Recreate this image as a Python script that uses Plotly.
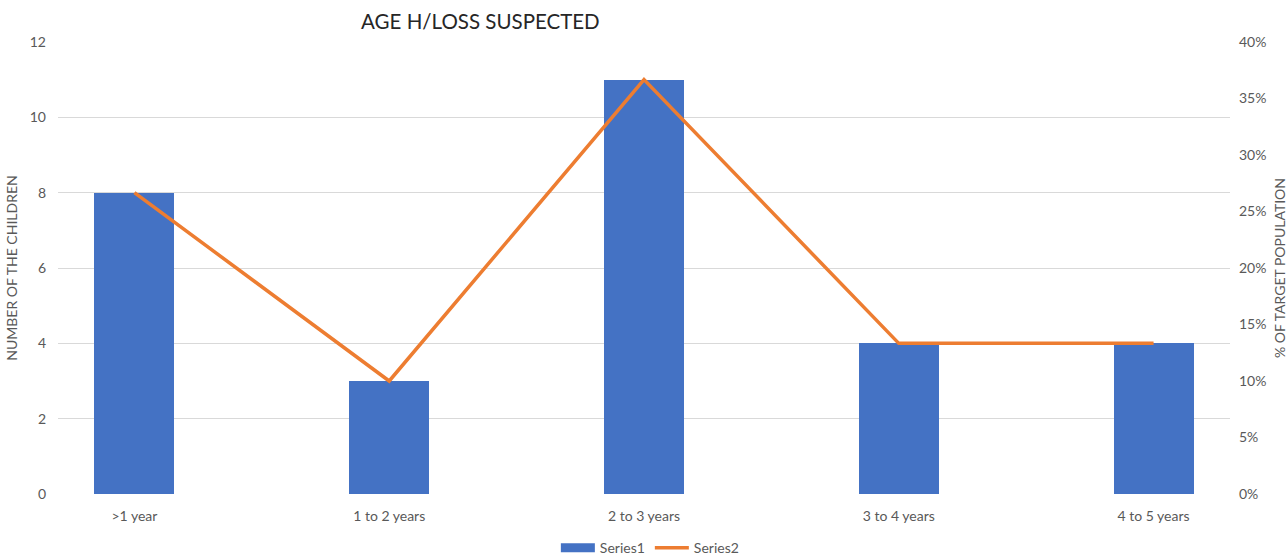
import plotly.graph_objects as go

categories = [">1 year", "1 to 2 years", "2 to 3 years", "3 to 4 years", "4 to 5 years"]
children = [8, 3, 11, 4, 4]
target_share = [0.2667, 0.10, 0.3667, 0.1333, 0.1333]

left_ticks = [0, 2, 4, 6, 8, 10, 12]
right_ticks = [0, 0.05, 0.10, 0.15, 0.20, 0.25, 0.30, 0.35, 0.40]

font_family = "Lato, Open Sans, sans-serif"
tick_color = "#595959"
bar_color = "#4472C4"
line_color = "#ED7D31"

positions = list(range(len(categories)))

fig = go.Figure()
fig.add_trace(go.Bar(
    x=positions, y=children, name="Series1",
    marker=dict(color=bar_color, line=dict(width=0)), width=0.314,
    yaxis="y", showlegend=False,
))
# wide blue swatch for the bar series in the legend
fig.add_trace(go.Scatter(
    x=[None], y=[None], name="Series1", mode="lines",
    line=dict(color=bar_color, width=9), yaxis="y",
))
fig.add_trace(go.Scatter(
    x=positions, y=target_share, name="Series2",
    mode="lines", line=dict(color=line_color, width=3.5),
    yaxis="y2",
))

fig.update_layout(
    width=1288, height=557,
    margin=dict(l=58, r=58, t=42, b=63, autoexpand=False),
    paper_bgcolor="white", plot_bgcolor="white",
    font=dict(family=font_family, color=tick_color, size=14),
    title=dict(text="AGE H/LOSS SUSPECTED", x=0.373, xanchor="center",
               y=0.96, yanchor="middle",
               font=dict(size=20.5, color="#262626", family=font_family)),
    xaxis=dict(
        tickmode="array", tickvals=positions, ticktext=categories,
        range=[-0.3, 4.3], showgrid=False, zeroline=False,
        showline=False, ticks="", ticklabelstandoff=12, automargin=False,
        tickfont=dict(size=14, color=tick_color),
    ),
    yaxis=dict(
        range=[0, 12], tickvals=left_ticks, showgrid=True, gridcolor="#D9D9D9",
        gridwidth=1, zeroline=False, showline=False, ticks="",
        ticklabelstandoff=11, automargin=False,
        title=dict(text="NUMBER OF THE CHILDREN", standoff=8,
                   font=dict(size=14, color=tick_color)),
    ),
    yaxis2=dict(
        range=[0, 0.4], tickvals=right_ticks, tickformat=".0%",
        overlaying="y", side="right", showgrid=False, zeroline=False,
        showline=False, ticks="", ticklabelstandoff=8, automargin=False,
        title=dict(text="% OF TARGET POPULATION", standoff=16,
                   font=dict(size=14, color=tick_color)),
    ),
    legend=dict(orientation="h", x=0.505, xanchor="center",
                yref="container", y=0.016, yanchor="middle",
                font=dict(size=14, color=tick_color),
                itemwidth=34),
    bargap=0,
)

fig.write_html("out.html")
